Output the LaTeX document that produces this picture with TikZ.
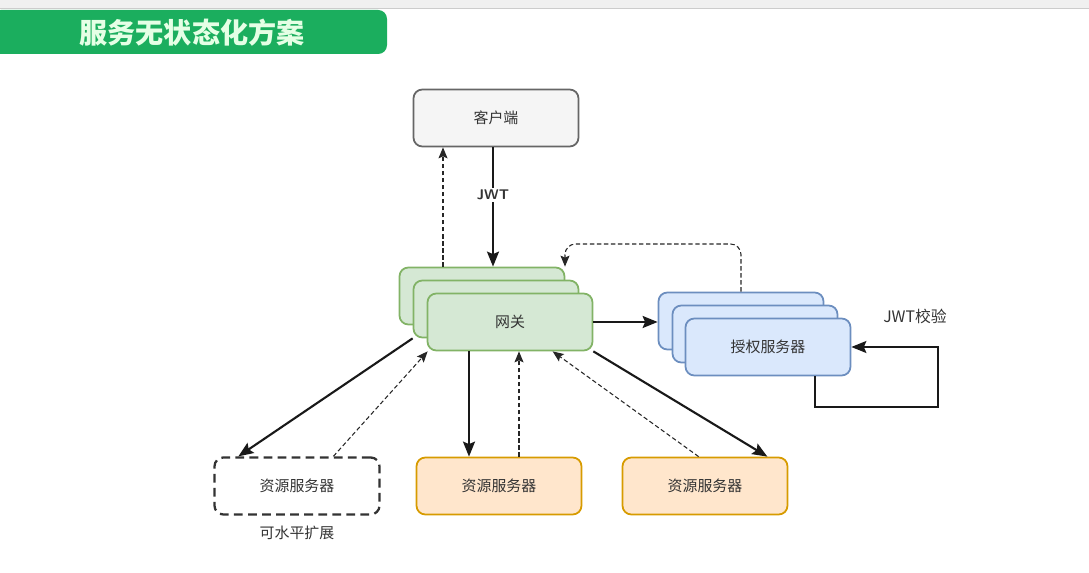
\documentclass[tikz,border=0pt]{standalone}
\usepackage{fontspec}
\newfontfamily\cjk{Noto Sans CJK SC}
\usetikzlibrary{arrows.meta, positioning, calc}
\definecolor{titlegreen}{RGB}{27,174,94}
\definecolor{gwfill}{RGB}{213,232,212}
\definecolor{gwline}{RGB}{130,179,102}
\definecolor{authfill}{RGB}{218,232,252}
\definecolor{authline}{RGB}{108,142,191}
\definecolor{resfill}{RGB}{255,230,204}
\definecolor{resline}{RGB}{215,155,0}
\definecolor{clifill}{RGB}{245,245,245}
\definecolor{cliline}{RGB}{102,102,102}
\definecolor{labelgray}{RGB}{51,51,51}

\begin{document}
\begin{tikzpicture}[
    x=0.02cm, y=-0.02cm,
    box/.style={rectangle, rounded corners=5pt, line width=1pt, minimum width=3.3cm, minimum height=1.14cm, font=\cjk\fontsize{8.5}{10}\selectfont, text=labelgray},
    clientbox/.style={box, draw=cliline, fill=clifill},
    gwbox/.style={box, draw=gwline, fill=gwfill},
    authbox/.style={box, draw=authline, fill=authfill},
    resbox/.style={box, draw=resline, fill=resfill},
    spare/.style={box, draw=black!80, dash pattern=on 5pt off 3pt, line width=1.3pt},
    req/.style={-{Stealth[length=3mm, width=2.4mm, inset=0.5mm]}, line width=1.2pt, color=black!90},
    ret/.style={-{Stealth[length=2.2mm, width=1.8mm, inset=0.4mm]}, dash pattern=on 2.5pt off 1.5pt, line width=0.6pt, color=black!85},
    note/.style={font=\cjk\fontsize{8.5}{10}\selectfont, text=labelgray}
]
\useasboundingbox (0,0) rectangle (1089,573);
\fill[black!6] (0,0) rectangle (1089,8);
\draw[black!20] (0,8) -- (1089,8);
\fill[titlegreen, rounded corners=5pt] (-8,10) rectangle (387,54);
\node[font=\cjk\bfseries\fontsize{16}{18}\selectfont, text=white!90!green] (title) at (192,33) {服务无状态化方案};

\node[clientbox] (client) at (496,118) {客户端};

% gateway stack
\node[gwbox] (gw3) at (482,296) {};
\node[gwbox] (gw2) at (496,309) {};
\node[gwbox] (gw) at (510,322) {网关};

% auth stack
\node[authbox] (auth3) at (741,321) {};
\node[authbox] (auth2) at (755,334) {};
\node[authbox] (auth) at (768,347) {授权服务器};

\node[spare] (res1) at (297,486) {资源服务器};
\node[resbox] (res2) at (499,486) {资源服务器};
\node[resbox] (res3) at (705,486) {资源服务器};
\node[note] (scale) at (297,533) {可水平扩展};

\draw[req] (client.south -| 493,0) -- node[pos=0.4, fill=white, font=\sffamily\fontsize{8}{10}\selectfont\bfseries, text=labelgray, inner sep=1pt]{JWT} (gw3.north -| 493,0);
\draw[ret] (gw3.north -| 443,0) -- (client.south -| 443,0);
\draw[ret, rounded corners=6pt] (auth3.north -| 741,0) |- (565,244) -- (gw3.north -| 565,0);
\draw[req] (gw.east) -- (auth3.west |- gw.east);
\draw[req, line width=1pt] (auth.south -| 815,0) |- (938,407) |- (auth.east);
\node[note, font=\cjk\fontsize{9}{11}\selectfont] (check) at (915,316) {JWT校验};

\draw[req] (gw2.south west) -- ($(res1.north west)+(25,0)$);
\draw[ret] ($(res1.north west)+(120,0)$) -- ($(gw.south west)+(1,0)$);
\draw[req] (gw.south -| 469,0) -- (res2.north -| 469,0);
\draw[ret] (res2.north -| 519,0) -- (gw.south -| 519,0);
\draw[ret] ($(res3.north west)+(77,0)$) -- ($(gw.south west)+(126,0)$);
\draw[req] (gw.south east) -- ($(res3.north east)+(-21,0)$);
\end{tikzpicture}
\end{document}
